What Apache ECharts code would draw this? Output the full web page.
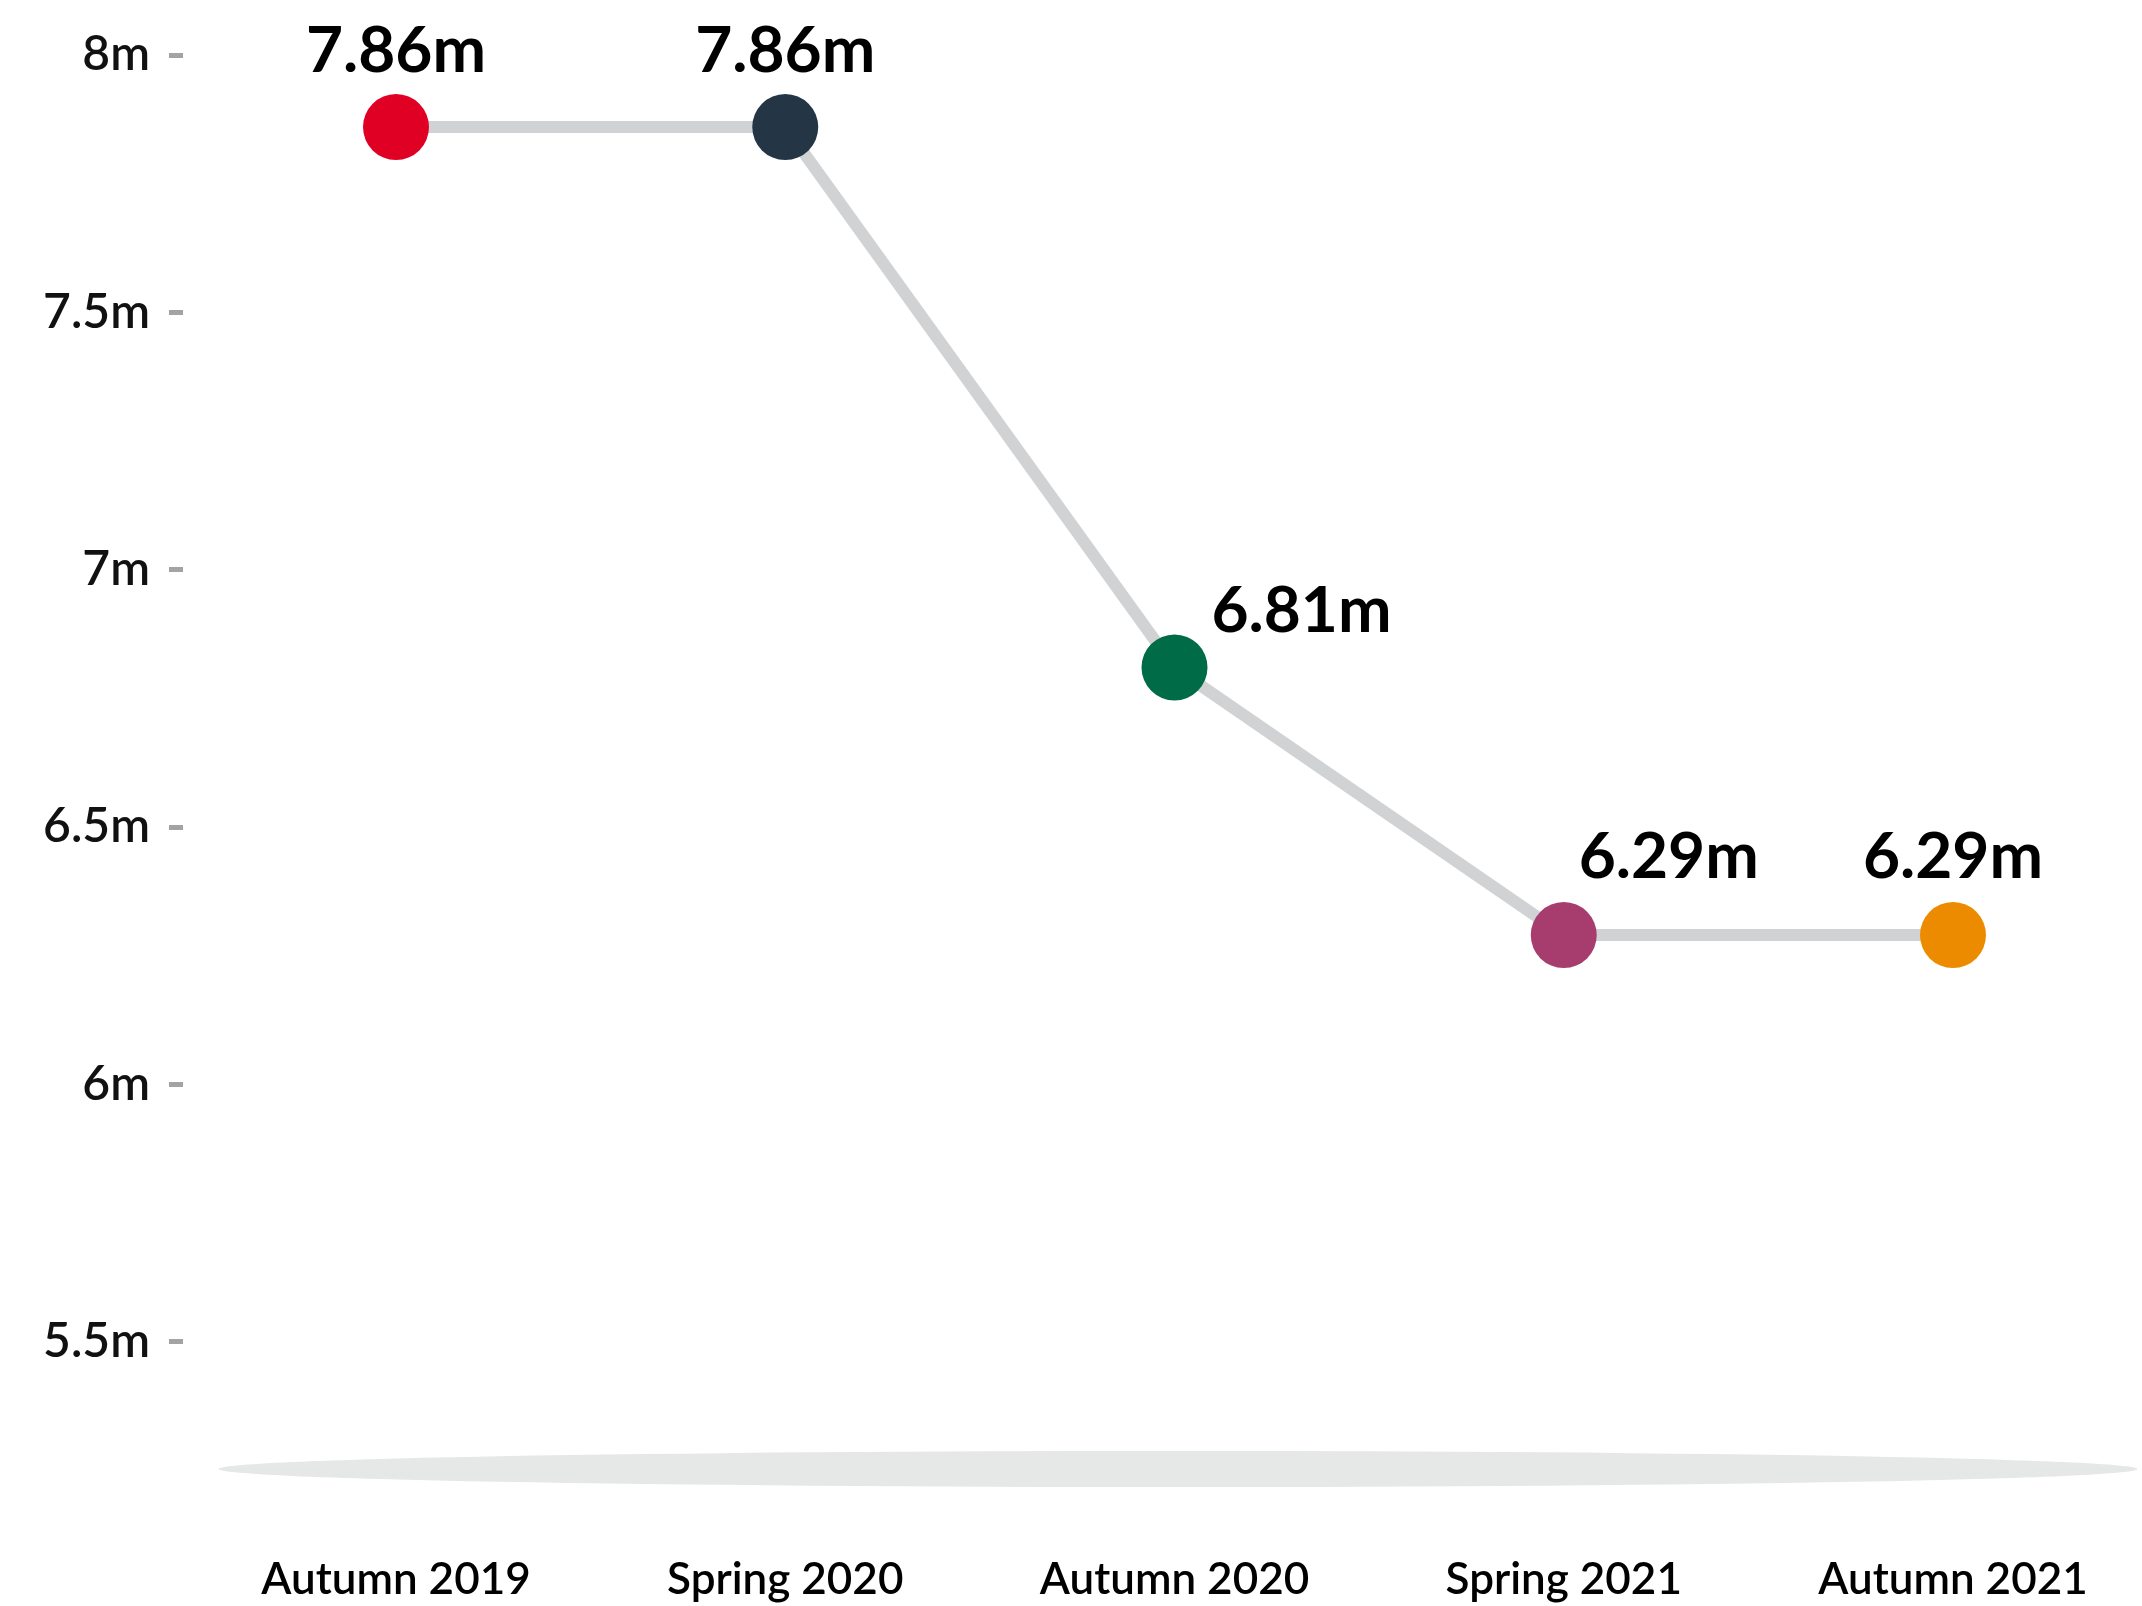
<!DOCTYPE html>
<html>
<head>
<meta charset="utf-8">
<script src="https://cdn.jsdelivr.net/npm/echarts@6/dist/echarts.min.js"></script>
<style>
  html, body { margin: 0; padding: 0; background: #ffffff; }
  #chart { width: 2142px; height: 1606px; }
</style>
</head>
<body>
<div id="chart"></div>
<script>
// Survey waves and the headline figure (millions) for each
const categories = ['Autumn 2019', 'Spring 2020', 'Autumn 2020', 'Spring 2021', 'Autumn 2021'];
const values = [7.86, 7.86, 6.81, 6.29, 6.29];
const pointColors = ['#e00024', '#243645', '#006b47', '#a63d6e', '#ec8b00'];
// Value-axis ticks that carry a label
const tickValues = [5.5, 6, 6.5, 7, 7.5, 8];

// Where each value label sits relative to its dot
const labelOffsets = [[0, -76], [0, -76], [127, -56], [105, -78], [0, -78]];

const FONT = 'Lato, "Noto Sans", sans-serif';

const chart = echarts.init(document.getElementById('chart'), null, { renderer: 'canvas' });

const seriesData = values.map((v, i) => ({
  value: v,
  itemStyle: { color: pointColors[i] },
  label: { offset: labelOffsets[i] }
}));

chart.setOption({
  backgroundColor: '#ffffff',
  animation: false,
  grid: { left: 396, right: 189, top: 55, bottom: 7, containLabel: false },
  graphic: [{
    // soft floor shadow beneath the plot
    type: 'circle',
    x: 1178,
    y: 1469,
    scaleX: 53.3,
    shape: { cx: 0, cy: 0, r: 18 },
    style: { fill: '#e6e7e7' },
    z: -10,
    silent: true
  }],
  xAxis: {
    type: 'category',
    data: categories,
    boundaryGap: false,
    axisLine: { show: false },
    axisTick: { show: false },
    splitLine: { show: false },
    axisLabel: {
      margin: -41,
      fontFamily: FONT,
      fontSize: 44,
      lineHeight: 44,
      fontWeight: 600,
      color: '#000000'
    }
  },
  yAxis: {
    type: 'value',
    min: 5,
    max: 8,
    interval: 0.5,
    offset: 213,
    axisLine: { show: false },
    splitLine: { show: false },
    axisTick: {
      show: true,
      length: 14,
      customValues: tickValues,
      lineStyle: { color: '#a3a3a3', width: 5 }
    },
    axisLabel: {
      margin: 33,
      customValues: tickValues,
      fontFamily: FONT,
      fontSize: 48,
      fontWeight: 600,
      color: '#111111',
      formatter: v => v + 'm'
    }
  },
  series: [{
    type: 'line',
    data: seriesData,
    symbol: 'circle',
    symbolSize: 66,
    lineStyle: { color: '#d1d2d4', width: 12 },
    z: 3,
    label: {
      show: true,
      position: 'inside',
      align: 'center',
      verticalAlign: 'middle',
      fontFamily: FONT,
      fontSize: 64,
      lineHeight: 64,
      fontWeight: 'bold',
      color: '#000000',
      formatter: p => p.value.toFixed(2) + 'm'
    },
    emphasis: { disabled: true }
  }]
});
</script>
</body>
</html>
